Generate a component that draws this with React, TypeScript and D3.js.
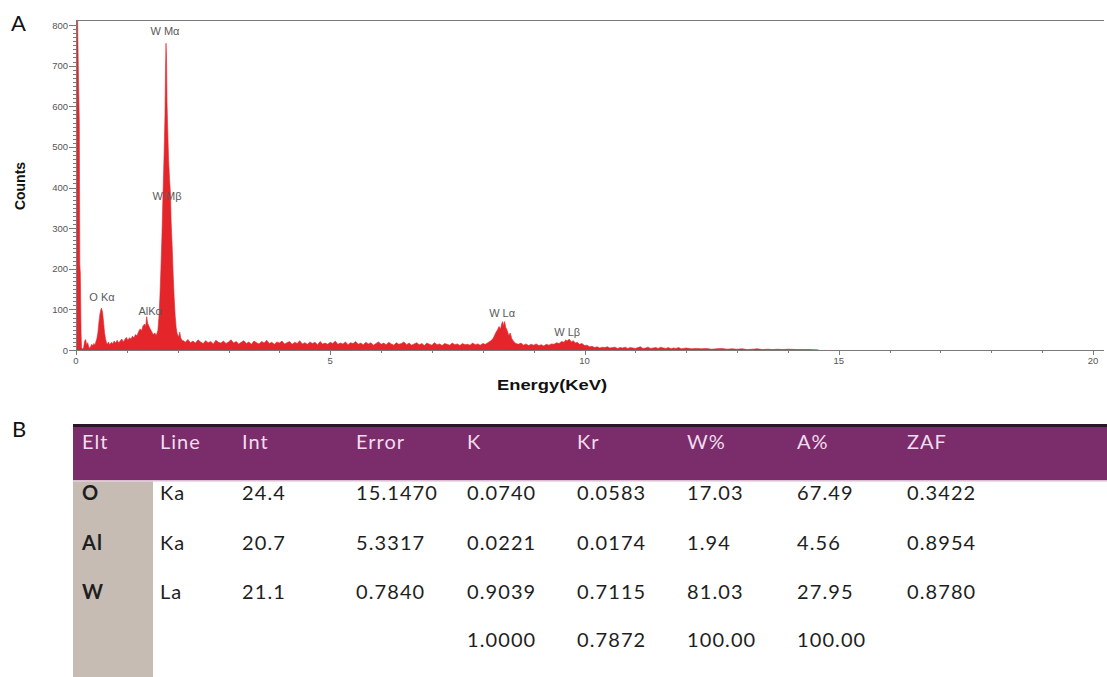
import React, { useEffect, useRef } from "react";
import * as d3 from "d3";

// EDS spectrum: [energy keV, counts]
const spectrum: [number, number][] = [
  [0.0, 830], [0.03, 830], [0.045, 700], [0.065, 560], [0.075, 210], [0.085, 190], [0.1, 40], [0.11, 5],
  [0.13, 2], [0.15, 6], [0.17, 22], [0.19, 26], [0.21, 12], [0.23, 18], [0.25, 8], [0.27, 4], [0.29, 9],
  [0.31, 14], [0.33, 10], [0.35, 16], [0.37, 12], [0.39, 20], [0.41, 28], [0.43, 42], [0.45, 68], [0.47, 88],
  [0.49, 100], [0.5, 103], [0.52, 95], [0.54, 72], [0.56, 44], [0.58, 28], [0.6, 18], [0.62, 14], [0.64, 20],
  [0.66, 13], [0.68, 16], [0.7, 19], [0.72, 15], [0.75, 22], [0.78, 17], [0.81, 24], [0.84, 18], [0.87, 22],
  [0.9, 27], [0.93, 20], [0.96, 26], [0.99, 31], [1.02, 24], [1.05, 30], [1.08, 27], [1.11, 34], [1.14, 30],
  [1.17, 38], [1.2, 35], [1.23, 45], [1.26, 52], [1.29, 48], [1.32, 60], [1.35, 64], [1.37, 58], [1.39, 82],
  [1.41, 66], [1.43, 60], [1.46, 52], [1.49, 45], [1.52, 38], [1.55, 42], [1.58, 36], [1.61, 48], [1.63, 80],
  [1.65, 130], [1.67, 200], [1.69, 280], [1.71, 380], [1.73, 470], [1.75, 580], [1.76, 690], [1.77, 755],
  [1.78, 720], [1.79, 610], [1.8, 560], [1.82, 470], [1.84, 420], [1.86, 380], [1.87, 320], [1.89, 260],
  [1.91, 190], [1.93, 130], [1.95, 85], [1.97, 55], [1.99, 40], [2.02, 32], [2.04, 44], [2.06, 30], [2.09, 22],
  [2.1, 24], [2.15, 19], [2.2, 26], [2.25, 18], [2.3, 22], [2.35, 17], [2.4, 25], [2.45, 20], [2.5, 16],
  [2.55, 23], [2.6, 18], [2.65, 21], [2.7, 15], [2.75, 24], [2.8, 19], [2.85, 17], [2.9, 22], [2.95, 16],
  [3.0, 20], [3.05, 25], [3.1, 17], [3.15, 21], [3.2, 15], [3.25, 19], [3.3, 23], [3.35, 16], [3.4, 20],
  [3.45, 14], [3.5, 22], [3.55, 18], [3.6, 15], [3.65, 21], [3.7, 17], [3.75, 24], [3.8, 16], [3.85, 19],
  [3.9, 14], [3.95, 20], [4.0, 17], [4.05, 22], [4.1, 15], [4.15, 18], [4.2, 21], [4.25, 14], [4.3, 19],
  [4.35, 16], [4.4, 23], [4.45, 15], [4.5, 18], [4.55, 14], [4.6, 20], [4.65, 16], [4.7, 19], [4.75, 13],
  [4.8, 21], [4.85, 15], [4.9, 17], [4.95, 14], [5.0, 19], [5.05, 16], [5.1, 22], [5.15, 14], [5.2, 17],
  [5.25, 15], [5.3, 20], [5.35, 13], [5.4, 18], [5.45, 16], [5.5, 21], [5.55, 14], [5.6, 17], [5.65, 13],
  [5.7, 19], [5.75, 15], [5.8, 18], [5.85, 12], [5.9, 16], [5.95, 20], [6.0, 14], [6.05, 17], [6.1, 13],
  [6.15, 19], [6.2, 15], [6.25, 12], [6.3, 18], [6.35, 14], [6.4, 16], [6.45, 20], [6.5, 13], [6.55, 17],
  [6.6, 12], [6.65, 15], [6.7, 18], [6.75, 13], [6.8, 16], [6.85, 11], [6.9, 17], [6.95, 14], [7.0, 12],
  [7.05, 18], [7.1, 13], [7.15, 15], [7.2, 11], [7.25, 16], [7.3, 14], [7.35, 12], [7.4, 17], [7.45, 13],
  [7.5, 15], [7.55, 11], [7.6, 16], [7.65, 13], [7.7, 14], [7.75, 12], [7.8, 17], [7.85, 13], [7.9, 15],
  [7.95, 12], [8.0, 16], [8.05, 14], [8.1, 18], [8.15, 22], [8.2, 28], [8.23, 36], [8.26, 44], [8.29, 50],
  [8.32, 58], [8.35, 52], [8.37, 64], [8.39, 70], [8.41, 60], [8.43, 70], [8.45, 56], [8.48, 48], [8.51, 36],
  [8.54, 42], [8.57, 28], [8.6, 22], [8.65, 16], [8.7, 14], [8.75, 17], [8.8, 12], [8.85, 15], [8.9, 11],
  [8.95, 14], [9.0, 12], [9.05, 15], [9.1, 11], [9.15, 13], [9.2, 10], [9.25, 14], [9.3, 12], [9.35, 15],
  [9.4, 14], [9.45, 18], [9.5, 16], [9.55, 21], [9.6, 19], [9.63, 25], [9.66, 22], [9.7, 27], [9.74, 20],
  [9.78, 23], [9.82, 17], [9.86, 19], [9.9, 14], [9.95, 16], [10.0, 11], [10.05, 12], [10.1, 8], [10.15, 9],
  [10.2, 6], [10.25, 8], [10.3, 5], [10.35, 7], [10.4, 6], [10.45, 8], [10.5, 5], [10.55, 6], [10.6, 7],
  [10.65, 4], [10.7, 6], [10.75, 5], [10.8, 7], [10.85, 4], [10.9, 6], [10.95, 5], [11.0, 4], [11.05, 6],
  [11.1, 8], [11.15, 4], [11.2, 5], [11.25, 7], [11.3, 4], [11.35, 5], [11.4, 6], [11.45, 4], [11.5, 7],
  [11.55, 5], [11.6, 4], [11.65, 6], [11.7, 3], [11.75, 5], [11.8, 4], [11.85, 6], [11.9, 3], [11.95, 4],
  [12.0, 5], [12.1, 3], [12.2, 4], [12.3, 3], [12.4, 4], [12.5, 2], [12.6, 3], [12.7, 4], [12.8, 2],
  [12.9, 3], [13.0, 2], [13.1, 3], [13.2, 1], [13.3, 2], [13.4, 3], [13.5, 1], [13.6, 2], [13.7, 1],
  [13.8, 2], [13.9, 1], [14.0, 2], [14.2, 1], [14.4, 1], [14.6, 0],
];

// peak labels: text, energy, count level of the label baseline
const peakNames = ["W Mα", "W Mβ", "O Kα", "AlKα", "W Lα", "W Lβ"];
const peakEnergy = [1.75, 1.79, 0.51, 1.46, 8.38, 9.66];
const peakLevel = [775, 369, 121, 86, 81, 34];

const xMajorTicks = [0, 5, 10, 15, 20];
const yMajorTicks = [0, 100, 200, 300, 400, 500, 600, 700, 800];

// quantification table
const tableHeader = ["Elt", "Line", "Int", "Error", "K", "Kr", "W%", "A%", "ZAF"];
const rowO = ["O", "Ka", "24.4", "15.1470", "0.0740", "0.0583", "17.03", "67.49", "0.3422"];
const rowAl = ["Al", "Ka", "20.7", "5.3317", "0.0221", "0.0174", "1.94", "4.56", "0.8954"];
const rowW = ["W", "La", "21.1", "0.7840", "0.9039", "0.7115", "81.03", "27.95", "0.8780"];
const rowTotal = ["", "", "", "", "1.0000", "0.7872", "100.00", "100.00", ""];
const columnX = [82, 160, 242, 356, 467, 577, 687, 797, 907];

const App = () => {
  const ref = useRef<SVGSVGElement>(null);

  useEffect(() => {
    const svg = d3.select(ref.current);
    svg.selectAll("*").remove();

    const left = 76;
    const right = 1104;
    const top = 20;
    const base = 350;

    const x = d3.scaleLinear().domain([0, 20]).range([left, 1093]);
    const y = d3.scaleLinear().domain([0, 800]).range([base, 25]);

    // panel letters
    svg.append("text").attr("x", 11).attr("y", 31).attr("font-family", "Lato, sans-serif")
      .attr("font-size", 22).attr("fill", "#111").text("A");
    svg.append("text").attr("x", 12).attr("y", 437).attr("font-family", "Lato, sans-serif")
      .attr("font-size", 22).attr("fill", "#111").text("B");

    svg.append("defs").append("clipPath").attr("id", "plotclip")
      .append("rect").attr("x", left).attr("y", top).attr("width", right - left).attr("height", base - top);

    const area = d3.area<[number, number]>()
      .x(d => x(d[0]))
      .y0(base)
      .y1(d => y(d[1]));

    svg.append("path")
      .datum(spectrum)
      .attr("clip-path", "url(#plotclip)")
      .attr("fill", "#e4262b")
      .attr("stroke", "#e4262b")
      .attr("stroke-width", 0.6)
      .attr("d", area);

    // frame
    const frame = svg.append("g").attr("stroke", "#7a7a7a").attr("stroke-width", 1).attr("fill", "none");
    frame.append("line").attr("x1", left).attr("x2", right).attr("y1", top + 0.5).attr("y2", top + 0.5);
    frame.append("line").attr("x1", left).attr("x2", right).attr("y1", base + 0.5).attr("y2", base + 0.5);
    frame.append("line").attr("x1", left + 0.5).attr("x2", left + 0.5).attr("y1", top).attr("y2", base);

    // x ticks
    const xt = svg.append("g").attr("stroke", "#7a7a7a").attr("stroke-width", 1);
    d3.range(0, 21).forEach(v => {
      xt.append("line").attr("x1", Math.round(x(v)) + 0.5).attr("x2", Math.round(x(v)) + 0.5)
        .attr("y1", base).attr("y2", base + (xMajorTicks.includes(v) ? 5 : 3));
    });
    svg.append("g").selectAll("text").data(xMajorTicks).enter().append("text")
      .attr("x", d => x(d)).attr("y", base + 14).attr("text-anchor", "middle")
      .attr("font-family", "Arial, 'Liberation Sans', sans-serif").attr("font-size", 9.5).attr("fill", "#555")
      .text(d => d);

    // y ticks
    const yt = svg.append("g").attr("stroke", "#7a7a7a").attr("stroke-width", 1);
    d3.range(0, 801, 10).forEach(v => {
      const major = v % 100 === 0;
      yt.append("line").attr("x1", left).attr("x2", left - (major ? 7 : 3))
        .attr("y1", Math.round(y(v)) + 0.5).attr("y2", Math.round(y(v)) + 0.5);
    });
    svg.append("g").selectAll("text").data(yMajorTicks).enter().append("text")
      .attr("x", left - 8).attr("y", d => y(d) + 3.5).attr("text-anchor", "end")
      .attr("font-family", "Arial, 'Liberation Sans', sans-serif").attr("font-size", 9.5).attr("fill", "#555")
      .text(d => d);

    // axis titles
    svg.append("text").attr("transform", "translate(25,186) rotate(-90)").attr("text-anchor", "middle")
      .attr("font-family", "Arial, 'Liberation Sans', sans-serif").attr("font-weight", "bold")
      .attr("font-size", 14).attr("fill", "#111").text("Counts");
    svg.append("text").attr("x", 552).attr("y", 390).attr("text-anchor", "middle")
      .attr("font-family", "Arial, 'Liberation Sans', sans-serif").attr("font-weight", "bold")
      .attr("font-size", 15).attr("fill", "#111")
      .attr("textLength", 110).attr("lengthAdjust", "spacingAndGlyphs").text("Energy(KeV)");

    // peak labels
    svg.append("g").selectAll("text").data(peakNames).enter().append("text")
      .attr("x", (d, i) => x(peakEnergy[i])).attr("y", (d, i) => y(peakLevel[i]))
      .attr("text-anchor", "middle").attr("font-family", "Arial, 'Liberation Sans', sans-serif")
      .attr("font-size", 11).attr("fill", "#5a5a5a").text(d => d);

    // table
    const tTop = 425;
    const headH = 55;
    const tLeft = 73;
    const tRight = 1107;
    const rowY = [500, 550, 599, 647];
    const tb = svg.append("g");
    tb.append("rect").attr("x", tLeft).attr("y", tTop).attr("width", tRight - tLeft).attr("height", headH)
      .attr("fill", "#7b2c6b");
    tb.append("rect").attr("x", tLeft).attr("y", tTop - 1).attr("width", tRight - tLeft).attr("height", 3)
      .attr("fill", "#2b1626");
    tb.append("rect").attr("x", tLeft).attr("y", tTop + headH).attr("width", tRight - tLeft).attr("height", 1.5)
      .attr("fill", "#dcbcd2");
    tb.append("rect").attr("x", tLeft).attr("y", tTop + headH + 1.5).attr("width", 153 - tLeft)
      .attr("height", 677 - (tTop + headH + 1.5)).attr("fill", "#c6bcb4");

    tb.selectAll("text.head").data(tableHeader).enter().append("text").attr("class", "head")
      .attr("x", (d, i) => columnX[i]).attr("y", tTop + 24)
      .attr("font-family", "Lato, 'Open Sans', sans-serif").attr("font-size", 20)
      .attr("letter-spacing", 1).attr("fill", "#f1dced").text(d => d);

    const rows = [rowO, rowAl, rowW, rowTotal];
    rows.forEach((row, r) => {
      tb.append("g").selectAll("text").data(row).enter().append("text")
        .attr("x", (d, i) => columnX[i]).attr("y", rowY[r])
        .attr("font-family", "Lato, 'Open Sans', sans-serif").attr("font-size", 20)
        .attr("font-weight", (d, i) => (i === 0 ? "bold" : "normal"))
        .attr("letter-spacing", 1.1).attr("fill", "#1e1e1e").text(d => d);
    });
  }, []);

  return (
    <svg
      ref={ref}
      width={1107}
      height={677}
      style={{ position: "absolute", left: 0, top: 0, background: "#fff" }}
    />
  );
};

export default App;
